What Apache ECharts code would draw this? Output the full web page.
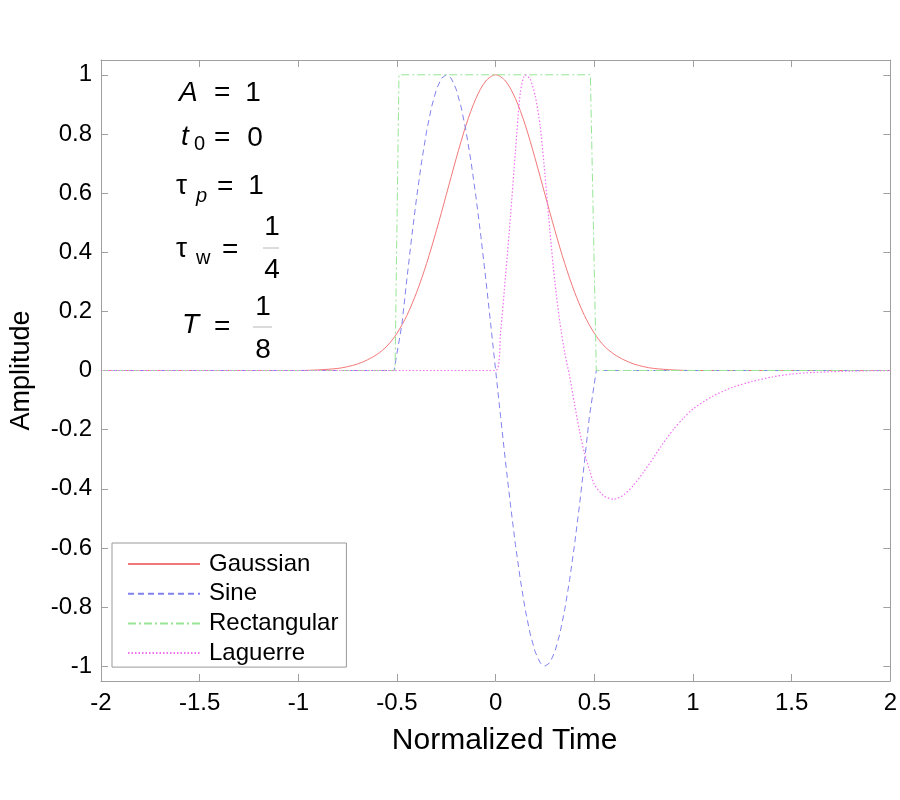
<!DOCTYPE html>
<html>
<head>
<meta charset="utf-8">
<script src="https://cdn.jsdelivr.net/npm/echarts/dist/echarts.min.js"></script>
<style>
  html, body { margin: 0; padding: 0; background: #fff; }
  #main { width: 900px; height: 800px; }
</style>
</head>
<body>
<div id="main"></div>
<script>
// values
var seriesNames = ['Gaussian', 'Sine', 'Rectangular', 'Laguerre'];
var xTicks = [-2, -1.5, -1, -0.5, 0, 0.5, 1, 1.5, 2];
var yTicks = [-1, -0.8, -0.6, -0.4, -0.2, 0, 0.2, 0.4, 0.6, 0.8, 1];

var gaussTime = [-2, -1, -0.9, -0.8, -0.75, -0.7, -0.65, -0.6, -0.55, -0.5, -0.45, -0.4, -0.35, -0.3, -0.25, -0.2, -0.15, -0.1, -0.05,
  0, 0.05, 0.1, 0.15, 0.2, 0.25, 0.3, 0.35, 0.4, 0.45, 0.5, 0.55, 0.6, 0.65, 0.7, 0.75, 0.8, 0.9, 1, 2];
var gaussAmp = [0, 0, 0.002, 0.007, 0.013, 0.022, 0.036, 0.055, 0.083, 0.126, 0.186, 0.265, 0.362, 0.474, 0.595, 0.717, 0.83, 0.92, 0.979,
  1, 0.979, 0.92, 0.83, 0.717, 0.595, 0.474, 0.362, 0.265, 0.186, 0.126, 0.083, 0.055, 0.036, 0.022, 0.013, 0.007, 0.002, 0, 0];

var sineTime = [-2, -0.515, -0.475, -0.45, -0.425, -0.4, -0.375, -0.35, -0.325, -0.3, -0.275, -0.25, -0.225, -0.2, -0.175, -0.15,
  -0.125, -0.1, -0.075, -0.05, -0.025, 0, 0.025, 0.05, 0.075, 0.1, 0.125, 0.15, 0.175, 0.2, 0.225, 0.25, 0.275, 0.3,
  0.325, 0.35, 0.375, 0.4, 0.425, 0.45, 0.475, 0.51, 2];
var sineAmp = [0, 0, 0.156, 0.309, 0.454, 0.588, 0.707, 0.809, 0.891, 0.951, 0.988, 1, 0.988, 0.951, 0.891, 0.809,
  0.707, 0.588, 0.454, 0.309, 0.156, 0, -0.156, -0.309, -0.454, -0.588, -0.707, -0.809, -0.891, -0.951, -0.988, -1, -0.988, -0.951,
  -0.891, -0.809, -0.707, -0.588, -0.454, -0.309, -0.156, 0, 0];

var rectTime = [-2, -0.51, -0.49, 0.48, 0.51, 2];
var rectAmp = [0, 0, 1, 1, 0, 0];

var lagTime = [-2, 0, 0.025, 0.05, 0.075, 0.1, 0.125, 0.15, 0.175, 0.2, 0.225, 0.25, 0.275, 0.3, 0.325, 0.35, 0.375,
  0.4, 0.425, 0.45, 0.475, 0.5, 0.55, 0.6, 0.65, 0.7, 0.75, 0.8, 0.85, 0.9, 0.95, 1, 1.1, 1.2, 1.3, 1.4, 1.5, 1.6, 1.8, 2];
var lagAmp = [0, 0, 0.13, 0.32, 0.52, 0.74, 0.94, 1, 0.985, 0.93, 0.83, 0.66, 0.47, 0.3, 0.165, 0.06, -0.02,
  -0.115, -0.205, -0.28, -0.335, -0.385, -0.425, -0.435, -0.42, -0.387, -0.343, -0.295, -0.245, -0.2, -0.162, -0.13,
  -0.087, -0.057, -0.037, -0.022, -0.012, -0.007, -0.002, 0];

function pairs(t, v) {
  return t.map(function (x, i) { return [x, v[i]]; });
}

var FONT = '"Liberation Sans", Arial, Helvetica, sans-serif';
var boxColor = '#a0a0a0';

var myChart = echarts.init(document.getElementById('main'));

function xAxisOf(pos, labels) {
  return {
    type: 'value', position: pos, min: -2, max: 2, interval: 0.5,
    axisLine: { show: true, onZero: false, lineStyle: { color: boxColor, width: 1 } },
    axisTick: { show: true, inside: true, length: 7, customValues: xTicks, lineStyle: { color: boxColor } },
    axisLabel: { show: labels, customValues: xTicks, color: '#000', fontSize: 24, fontFamily: FONT, margin: 10 },
    splitLine: { show: false },
    name: labels ? 'Normalized Time' : '', nameLocation: 'middle', nameGap: 45,
    nameTextStyle: { color: '#000', fontSize: 30, fontFamily: FONT, padding: [0, 0, 0, 18] }
  };
}
function yAxisOf(pos, labels) {
  return {
    type: 'value', position: pos, min: -1.05, max: 1.05,
    axisLine: { show: true, onZero: false, lineStyle: { color: boxColor, width: 1 } },
    axisTick: { show: true, inside: true, length: 7, customValues: yTicks, lineStyle: { color: boxColor } },
    axisLabel: { show: labels, customValues: yTicks, color: '#000', fontSize: 24, fontFamily: FONT, margin: 9 },
    splitLine: { show: false },
    name: labels ? 'Amplitude' : '', nameLocation: 'middle', nameGap: 66,
    nameTextStyle: { color: '#000', fontSize: 27, fontFamily: FONT }
  };
}

// annotation text (A, t0, tau_p, tau_w, T)
var txt = function (s, x, y, size, italic, align) {
  return {
    type: 'text', z: 100,
    style: {
      text: s, x: x, y: y, fill: '#000', align: align || 'left', verticalAlign: 'middle',
      font: (italic ? 'italic ' : '') + size + 'px ' + FONT
    }
  };
};
var bar = function (x1, x2, y) {
  return { type: 'line', z: 100, shape: { x1: x1, y1: y, x2: x2, y2: y }, style: { stroke: '#b8b8b8', lineWidth: 1 } };
};

var notes = [
  txt('A', 179, 93, 28, true), txt('=', 214, 93, 28), txt('1', 253, 93, 28, false, 'center'),
  txt('t', 181, 137, 28, true), txt('0', 194, 144, 20), txt('=', 214, 138, 28), txt('0', 255, 138, 28, false, 'center'),
  txt('τ', 176, 186, 28), txt('p', 196, 196, 20, true), txt('=', 217, 187, 28), txt('1', 256, 186, 28, false, 'center'),
  txt('τ', 176, 249, 28), txt('w', 196, 258, 20), txt('=', 222, 250, 28),
  txt('1', 272, 227, 28, false, 'center'), bar(263, 279, 248), txt('4', 272, 270, 28, false, 'center'),
  txt('T', 182, 325, 28, true), txt('=', 214, 327, 28),
  txt('1', 263, 307, 28, false, 'center'), bar(253, 272, 327), txt('8', 263, 350, 28, false, 'center')
];

myChart.setOption({
  animation: false,
  backgroundColor: '#fff',
  grid: { left: 100, right: 8, top: 60, bottom: 119, containLabel: false },
  xAxis: [xAxisOf('bottom', true), xAxisOf('top', false)],
  yAxis: [yAxisOf('left', true), yAxisOf('right', false)],
  legend: {
    data: seriesNames, orient: 'vertical', left: 112, top: 543,
    itemWidth: 72, itemHeight: 14, itemGap: 5.7,
    padding: [9, 8, 2, 15],
    itemStyle: { opacity: 0 },
    backgroundColor: '#fff', borderColor: '#999', borderWidth: 1, borderRadius: 0,
    textStyle: { color: '#000', fontSize: 24, fontFamily: FONT, padding: [0, 0, 0, 4] }
  },
  graphic: notes,
  series: [
    { name: 'Gaussian', type: 'line', symbol: 'none', smooth: 0.3, data: pairs(gaussTime, gaussAmp),
      color: '#f27878', lineStyle: { width: 1, color: '#f27878', type: 'solid' } },
    { name: 'Sine', type: 'line', symbol: 'none', data: pairs(sineTime, sineAmp),
      color: '#8282ee', lineStyle: { width: 1, color: '#8282ee', type: [6, 4] } },
    { name: 'Rectangular', type: 'line', symbol: 'none', data: pairs(rectTime, rectAmp),
      color: '#96e696', lineStyle: { width: 1, color: '#96e696', type: [8, 3, 2, 3] } },
    { name: 'Laguerre', type: 'line', symbol: 'none', smooth: 0.25, data: pairs(lagTime, lagAmp),
      color: '#f070f0', lineStyle: { width: 1.2, color: '#f070f0', type: [1.5, 2] } }
  ]
});
</script>
</body>
</html>
